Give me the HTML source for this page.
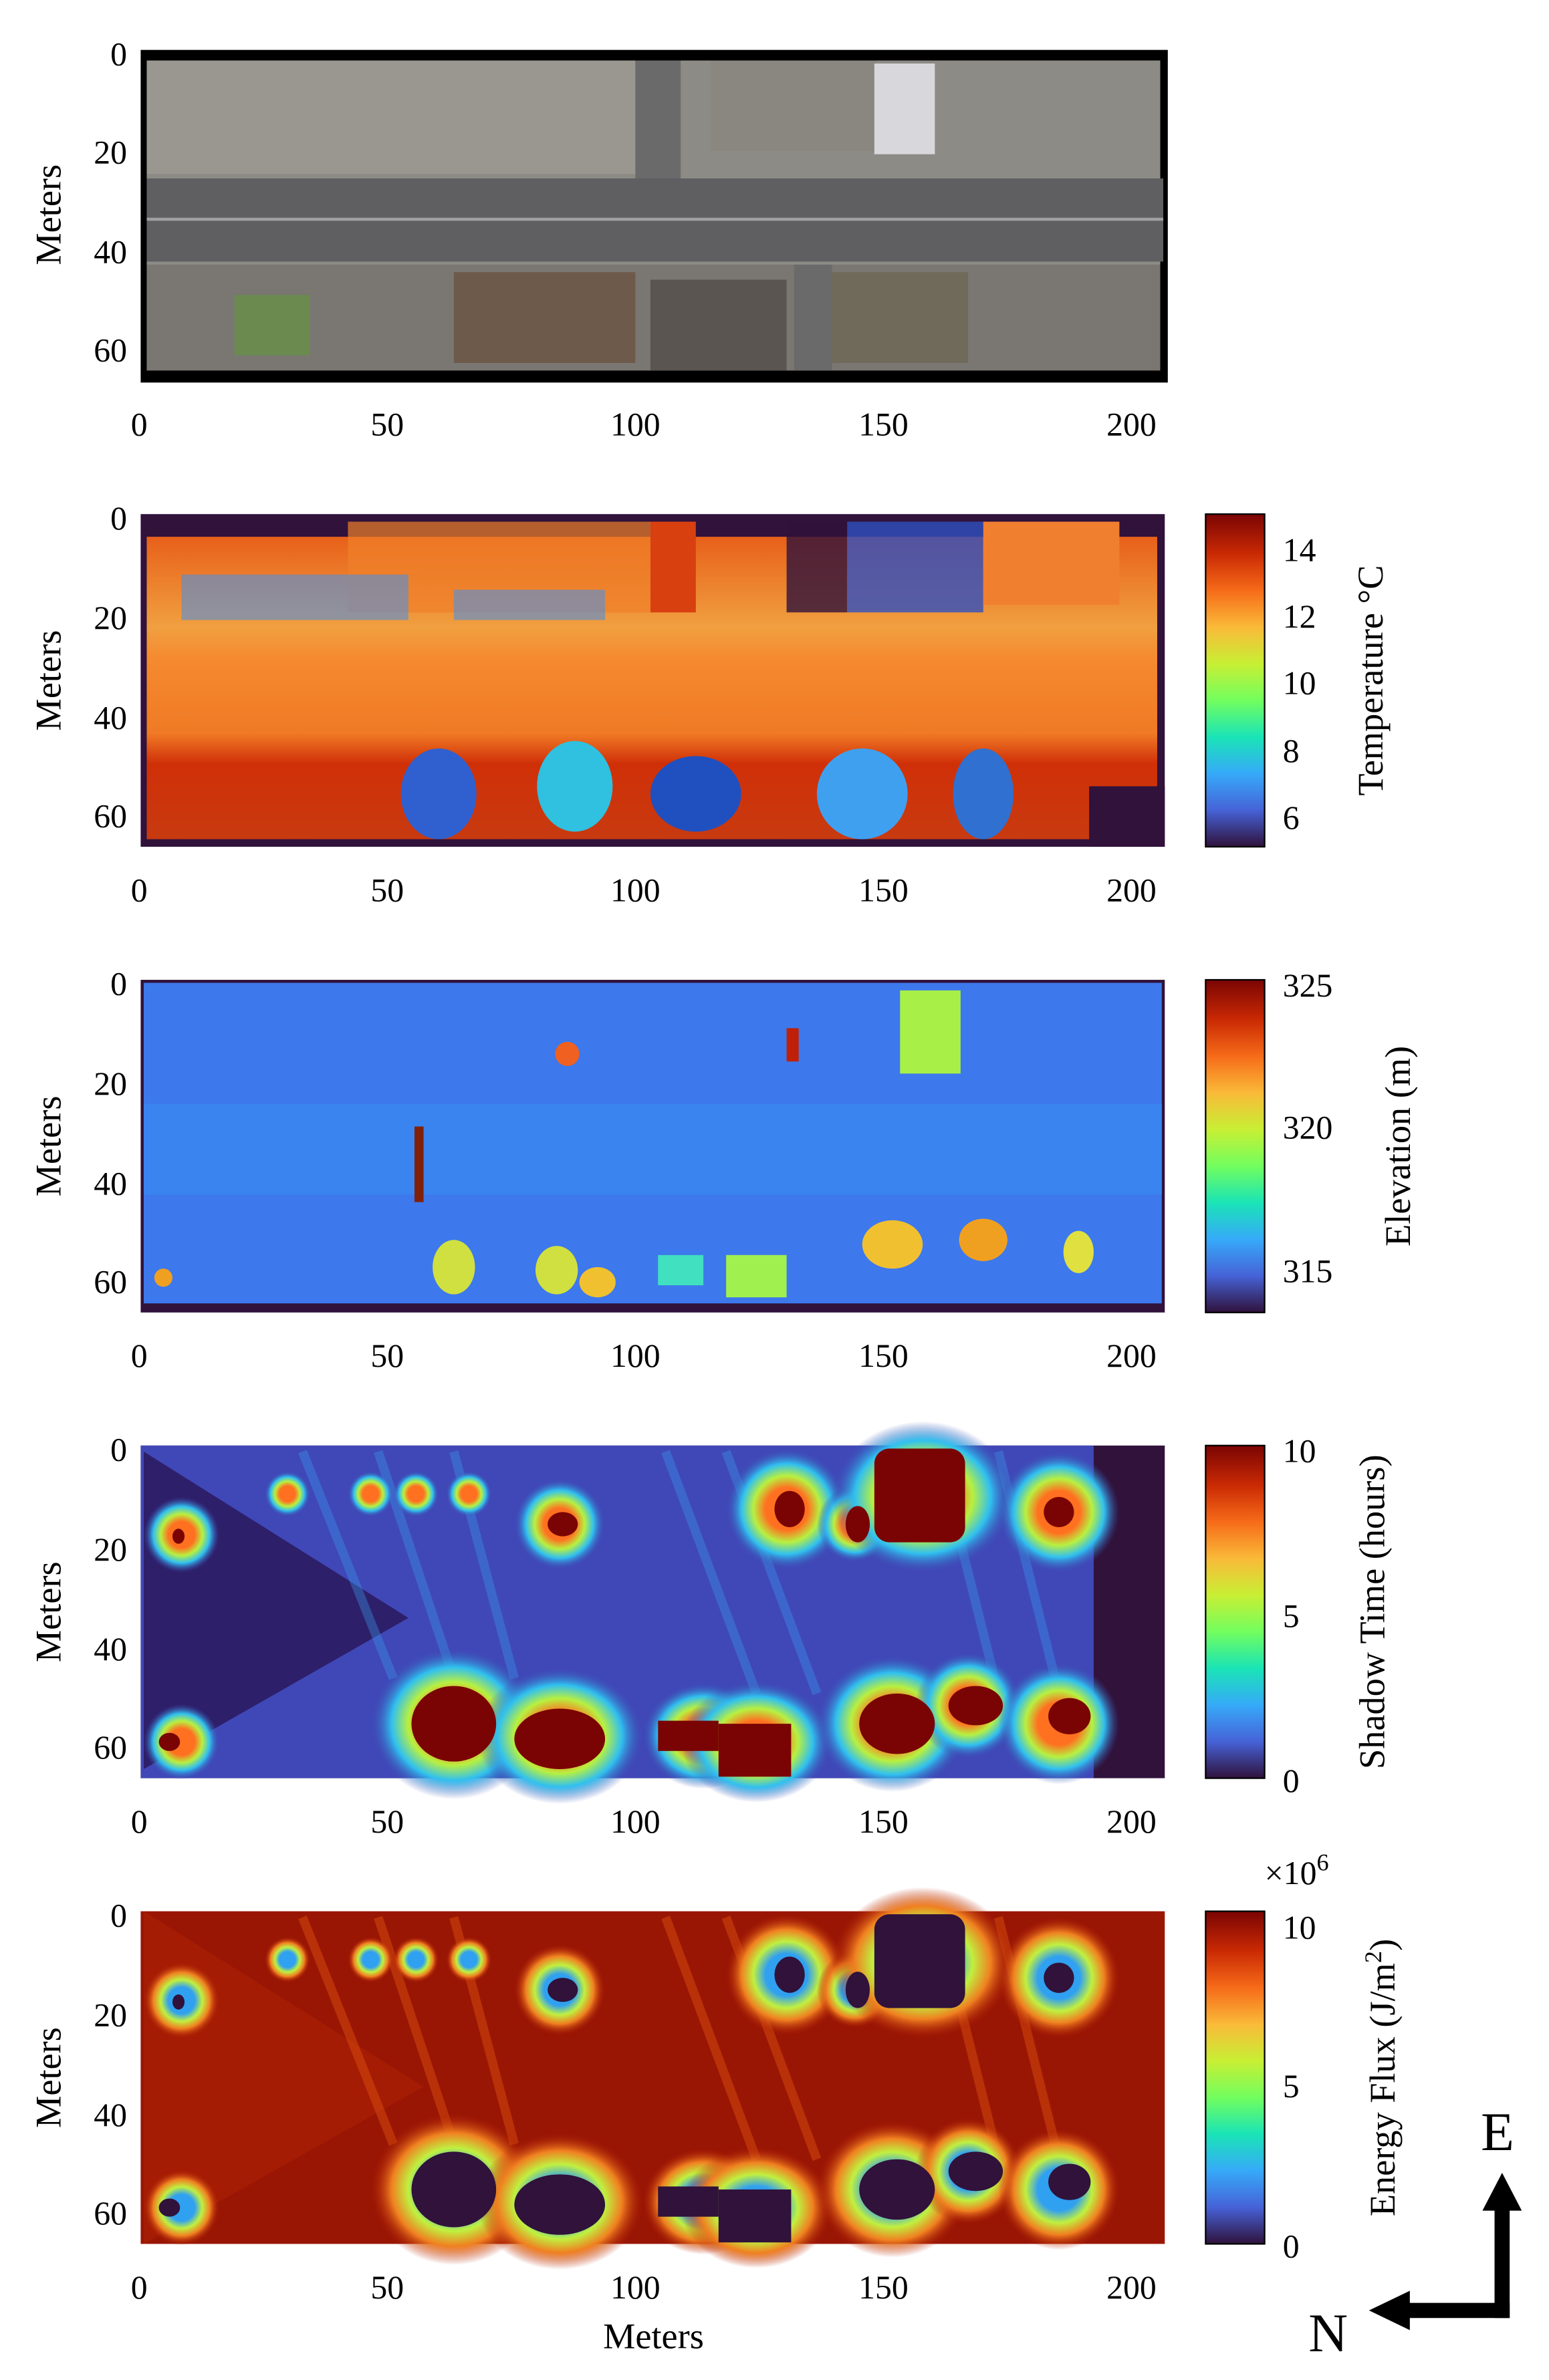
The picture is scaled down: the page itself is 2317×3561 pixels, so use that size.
<!DOCTYPE html>
<html><head><meta charset="utf-8"><style>
html,body{margin:0;padding:0;background:#fff}
svg{display:block}
text{font-family:"Liberation Serif",serif;fill:#000}
</style></head><body>
<svg width="2317" height="3561" viewBox="0 0 1024 1574" preserveAspectRatio="none" xmlns="http://www.w3.org/2000/svg">
<defs>
<linearGradient id="turbo" x1="0" y1="1" x2="0" y2="0">
<stop offset="0" stop-color="#30123b"/><stop offset="0.11" stop-color="#4662d7"/><stop offset="0.22" stop-color="#36aaf9"/><stop offset="0.33" stop-color="#1ae4b6"/><stop offset="0.44" stop-color="#72fe5e"/><stop offset="0.55" stop-color="#c8ef34"/><stop offset="0.66" stop-color="#faba39"/><stop offset="0.77" stop-color="#f66b19"/><stop offset="0.88" stop-color="#ca2a04"/><stop offset="1" stop-color="#7a0403"/>
</linearGradient>
<radialGradient id="haloR"><stop offset="0.35" stop-color="#ff7020"/><stop offset="0.55" stop-color="#b8f040"/><stop offset="0.75" stop-color="#30c0f0"/><stop offset="1" stop-color="#3a4cb0" stop-opacity="0"/></radialGradient>
<radialGradient id="haloB"><stop offset="0.35" stop-color="#30a0f0"/><stop offset="0.55" stop-color="#c0f040"/><stop offset="0.75" stop-color="#f08020"/><stop offset="1" stop-color="#b01e05" stop-opacity="0"/></radialGradient>
<linearGradient id="temp" x1="0" y1="0" x2="0" y2="1">
<stop offset="0" stop-color="#e8601a"/><stop offset="0.3" stop-color="#f0a040"/><stop offset="0.4" stop-color="#f58a30"/><stop offset="0.65" stop-color="#f07a25"/><stop offset="0.75" stop-color="#d03008"/><stop offset="1" stop-color="#c83a10"/>
</linearGradient>
</defs>

<!-- Panel 1: aerial -->
<rect x="93" y="33" width="679" height="220" fill="#000"/>
<rect x="97" y="40" width="670" height="205" fill="#8d8b86"/>
<rect x="97" y="40" width="330" height="75" fill="#9a9690"/>
<rect x="470" y="40" width="110" height="60" fill="#8a8680"/>
<rect x="578" y="42" width="40" height="60" fill="#d8d8dc"/>
<rect x="97" y="118" width="672" height="55" fill="#5f5f62"/>
<rect x="97" y="144" width="672" height="2" fill="#a0a0a0"/>
<rect x="97" y="175" width="670" height="70" fill="#7a7672"/>
<rect x="155" y="195" width="50" height="40" fill="#6a8a50"/>
<rect x="300" y="180" width="120" height="60" fill="#6d5a4a"/>
<rect x="430" y="185" width="90" height="60" fill="#5a5550"/>
<rect x="550" y="180" width="90" height="60" fill="#6f6a5a"/>
<rect x="420" y="40" width="30" height="78" fill="#6a6a6a"/>
<rect x="525" y="175" width="25" height="70" fill="#6a6a6a"/>

<!-- Panel 2: temperature -->
<rect x="93" y="340" width="677" height="220" fill="#30123b"/>
<rect x="97" y="355" width="668" height="200" fill="url(#temp)"/>
<rect x="430" y="345" width="30" height="60" fill="#d84010"/>
<rect x="230" y="345" width="200" height="60" fill="#f0802a" opacity="0.7"/>
<rect x="560" y="345" width="90" height="60" fill="#3050c0" opacity="0.8"/>
<rect x="520" y="345" width="40" height="60" fill="#30123b" opacity="0.8"/>
<rect x="650" y="345" width="90" height="55" fill="#f08030"/>
<rect x="120" y="380" width="150" height="30" fill="#5090e0" opacity="0.6"/>
<rect x="300" y="390" width="100" height="20" fill="#5090e0" opacity="0.6"/>
<ellipse cx="290" cy="525" rx="25" ry="30" fill="#3060d0"/>
<ellipse cx="380" cy="520" rx="25" ry="30" fill="#30c0e0"/>
<ellipse cx="460" cy="525" rx="30" ry="25" fill="#2050c0"/>
<ellipse cx="570" cy="525" rx="30" ry="30" fill="#40a0f0"/>
<ellipse cx="650" cy="525" rx="20" ry="30" fill="#3070d0"/>
<rect x="720" y="520" width="50" height="40" fill="#30123b"/>

<!-- Panel 3: elevation -->
<rect x="93" y="648" width="677" height="220" fill="#30123b"/>
<rect x="95" y="650" width="673" height="212" fill="#3d78ec"/>
<rect x="95" y="730" width="673" height="60" fill="#3a84f0"/>
<rect x="595" y="655" width="40" height="55" fill="#a8f048"/>
<ellipse cx="375" cy="697" rx="8" ry="8" fill="#f06020"/>
<rect x="520" y="680" width="8" height="22" fill="#c02008"/>
<rect x="274" y="745" width="6" height="50" fill="#802008"/>
<ellipse cx="300" cy="838" rx="14" ry="18" fill="#d0e040"/>
<ellipse cx="368" cy="840" rx="14" ry="16" fill="#d0e040"/>
<ellipse cx="395" cy="848" rx="12" ry="10" fill="#f0c030"/>
<rect x="435" y="830" width="30" height="20" fill="#40e0c0"/>
<rect x="480" y="830" width="40" height="28" fill="#a0f050"/>
<ellipse cx="590" cy="823" rx="20" ry="16" fill="#f0c030"/>
<ellipse cx="650" cy="820" rx="16" ry="14" fill="#f0a020"/>
<ellipse cx="713" cy="828" rx="10" ry="14" fill="#e0e040"/>
<ellipse cx="108" cy="845" rx="6" ry="6" fill="#f0a020"/>

<!-- Panel 4: shadow time -->
<rect x="93" y="956" width="677" height="220" fill="#30123b"/>
<rect x="93" y="956" width="630" height="220" fill="#4048b8"/>
<polygon points="95,960 270,1070 95,1170" fill="#2e1f6a"/>
<g stroke="#3aa0f0" stroke-width="6" opacity="0.35" fill="none">
<path d="M200,960 L260,1110"/><path d="M250,960 L300,1110"/><path d="M300,960 L340,1110"/><path d="M440,960 L500,1120"/><path d="M480,960 L540,1120"/><path d="M620,960 L660,1120"/><path d="M660,960 L700,1120"/>
</g>
<g fill="url(#haloR)">
<ellipse cx="120" cy="1015" rx="25" ry="25"/><ellipse cx="120" cy="1152" rx="25" ry="25"/>
<ellipse cx="190" cy="988" rx="15" ry="15"/><ellipse cx="245" cy="988" rx="15" ry="15"/><ellipse cx="275" cy="988" rx="15" ry="15"/><ellipse cx="310" cy="988" rx="15" ry="15"/>
<ellipse cx="370" cy="1008" rx="30" ry="30"/><ellipse cx="520" cy="998" rx="40" ry="40"/><ellipse cx="565" cy="1008" rx="25" ry="25"/>
<ellipse cx="610" cy="990" rx="60" ry="50"/><ellipse cx="700" cy="1000" rx="40" ry="40"/>
<ellipse cx="300" cy="1140" rx="55" ry="50"/><ellipse cx="370" cy="1148" rx="55" ry="45"/><ellipse cx="465" cy="1148" rx="40" ry="35"/>
<ellipse cx="500" cy="1152" rx="50" ry="40"/><ellipse cx="590" cy="1140" rx="50" ry="45"/><ellipse cx="640" cy="1128" rx="35" ry="35"/><ellipse cx="700" cy="1140" rx="40" ry="40"/>
</g>
<g fill="#7a0403">
<rect x="578" y="958" width="60" height="62" rx="10"/>
<ellipse cx="300" cy="1140" rx="28" ry="25"/><ellipse cx="370" cy="1150" rx="30" ry="20"/><rect x="435" y="1138" width="40" height="20"/><rect x="475" y="1140" width="48" height="35"/>
<ellipse cx="593" cy="1140" rx="25" ry="20"/><ellipse cx="645" cy="1128" rx="18" ry="13"/><ellipse cx="707" cy="1135" rx="14" ry="12"/>
<ellipse cx="372" cy="1008" rx="10" ry="8"/><ellipse cx="522" cy="998" rx="10" ry="12"/><ellipse cx="567" cy="1008" rx="8" ry="12"/><ellipse cx="700" cy="1000" rx="10" ry="10"/>
<ellipse cx="112" cy="1152" rx="7" ry="6"/><ellipse cx="118" cy="1016" rx="4" ry="5"/>
</g>

<!-- Panel 5: energy flux -->
<rect x="93" y="1264" width="677" height="220" fill="#9a1604"/>
<polygon points="95,1264 280,1380 95,1484" fill="#a51c04"/>
<g stroke="#e85a10" stroke-width="6" opacity="0.4" fill="none">
<path d="M200,1268 L260,1418"/><path d="M250,1268 L300,1418"/><path d="M300,1268 L340,1418"/><path d="M440,1268 L500,1428"/><path d="M480,1268 L540,1428"/><path d="M620,1268 L660,1428"/><path d="M660,1268 L700,1428"/>
</g>
<g fill="url(#haloB)">
<ellipse cx="120" cy="1323" rx="25" ry="25"/><ellipse cx="120" cy="1460" rx="25" ry="25"/>
<ellipse cx="190" cy="1296" rx="15" ry="15"/><ellipse cx="245" cy="1296" rx="15" ry="15"/><ellipse cx="275" cy="1296" rx="15" ry="15"/><ellipse cx="310" cy="1296" rx="15" ry="15"/>
<ellipse cx="370" cy="1316" rx="30" ry="30"/><ellipse cx="520" cy="1306" rx="40" ry="40"/><ellipse cx="565" cy="1316" rx="25" ry="25"/>
<ellipse cx="610" cy="1298" rx="60" ry="50"/><ellipse cx="700" cy="1308" rx="40" ry="40"/>
<ellipse cx="300" cy="1448" rx="55" ry="50"/><ellipse cx="370" cy="1456" rx="55" ry="45"/><ellipse cx="465" cy="1456" rx="40" ry="35"/>
<ellipse cx="500" cy="1460" rx="50" ry="40"/><ellipse cx="590" cy="1448" rx="50" ry="45"/><ellipse cx="640" cy="1436" rx="35" ry="35"/><ellipse cx="700" cy="1448" rx="40" ry="40"/>
</g>
<g fill="#30123b">
<rect x="578" y="1266" width="60" height="62" rx="10"/>
<ellipse cx="300" cy="1448" rx="28" ry="25"/><ellipse cx="370" cy="1458" rx="30" ry="20"/><rect x="435" y="1446" width="40" height="20"/><rect x="475" y="1448" width="48" height="35"/>
<ellipse cx="593" cy="1448" rx="25" ry="20"/><ellipse cx="645" cy="1436" rx="18" ry="13"/><ellipse cx="707" cy="1443" rx="14" ry="12"/>
<ellipse cx="372" cy="1316" rx="10" ry="8"/><ellipse cx="522" cy="1306" rx="10" ry="12"/><ellipse cx="567" cy="1316" rx="8" ry="12"/><ellipse cx="700" cy="1308" rx="10" ry="10"/>
<ellipse cx="112" cy="1460" rx="7" ry="6"/><ellipse cx="118" cy="1324" rx="4" ry="5"/>
</g>

<!-- axes labels -->
<g font-size="22" text-anchor="middle">
<text x="92" y="288">0</text><text x="256" y="288">50</text><text x="420" y="288">100</text><text x="584" y="288">150</text><text x="748" y="288">200</text>
<text x="92" y="596">0</text><text x="256" y="596">50</text><text x="420" y="596">100</text><text x="584" y="596">150</text><text x="748" y="596">200</text>
<text x="92" y="904">0</text><text x="256" y="904">50</text><text x="420" y="904">100</text><text x="584" y="904">150</text><text x="748" y="904">200</text>
<text x="92" y="1212">0</text><text x="256" y="1212">50</text><text x="420" y="1212">100</text><text x="584" y="1212">150</text><text x="748" y="1212">200</text>
<text x="92" y="1520">0</text><text x="256" y="1520">50</text><text x="420" y="1520">100</text><text x="584" y="1520">150</text><text x="748" y="1520">200</text>
</g>
<g font-size="22" text-anchor="end">
<text x="84" y="43">0</text><text x="84" y="108">20</text><text x="84" y="174">40</text><text x="84" y="239">60</text>
<text x="84" y="350">0</text><text x="84" y="416">20</text><text x="84" y="482">40</text><text x="84" y="547">60</text>
<text x="84" y="658">0</text><text x="84" y="724">20</text><text x="84" y="790">40</text><text x="84" y="855">60</text>
<text x="84" y="966">0</text><text x="84" y="1032">20</text><text x="84" y="1098">40</text><text x="84" y="1163">60</text>
<text x="84" y="1274">0</text><text x="84" y="1340">20</text><text x="84" y="1406">40</text><text x="84" y="1471">60</text>
</g>
<g font-size="24" text-anchor="middle">
<text transform="translate(40,142) rotate(-90)">Meters</text>
<text transform="translate(40,450) rotate(-90)">Meters</text>
<text transform="translate(40,758) rotate(-90)">Meters</text>
<text transform="translate(40,1066) rotate(-90)">Meters</text>
<text transform="translate(40,1374) rotate(-90)">Meters</text>
<text x="432" y="1553">Meters</text>
</g>

<!-- colorbars -->
<g stroke="#000" stroke-width="1">
<rect x="797" y="340" width="39" height="220" fill="url(#turbo)"/>
<rect x="797" y="648" width="39" height="220" fill="url(#turbo)"/>
<rect x="797" y="956" width="39" height="220" fill="url(#turbo)"/>
<rect x="797" y="1264" width="39" height="220" fill="url(#turbo)"/>
</g>
<g font-size="22">
<text x="848" y="371">14</text><text x="848" y="415">12</text><text x="848" y="459">10</text><text x="848" y="504">8</text><text x="848" y="548">6</text>
<text x="848" y="659">325</text><text x="848" y="753">320</text><text x="848" y="848">315</text>
<text x="848" y="967">10</text><text x="848" y="1076">5</text><text x="848" y="1185">0</text>
<text x="848" y="1282">10</text><text x="848" y="1387">5</text><text x="848" y="1493">0</text>
<text x="836" y="1246">×10<tspan font-size="16" dy="-9">6</tspan></text>
</g>
<g font-size="24" text-anchor="middle">
<text transform="translate(914,450) rotate(-90)">Temperature °C</text>
<text transform="translate(932,758) rotate(-90)">Elevation (m)</text>
<text transform="translate(915,1066) rotate(-90)">Shadow Time (hours)</text>
<text transform="translate(922,1374) rotate(-90)">Energy Flux (J/m<tspan font-size="16" dy="-9">2</tspan><tspan dy="9">)</tspan></text>
</g>

<!-- compass -->
<rect x="988" y="1455" width="10" height="78" fill="#000"/>
<polygon points="980,1462 993,1437 1006,1462" fill="#000"/>
<rect x="925" y="1523" width="73" height="10" fill="#000"/>
<polygon points="932,1515 905,1528 932,1541" fill="#000"/>
<text x="990" y="1422" font-size="36" text-anchor="middle">E</text>
<text x="878" y="1555" font-size="36" text-anchor="middle">N</text>
</svg>
</body></html>
